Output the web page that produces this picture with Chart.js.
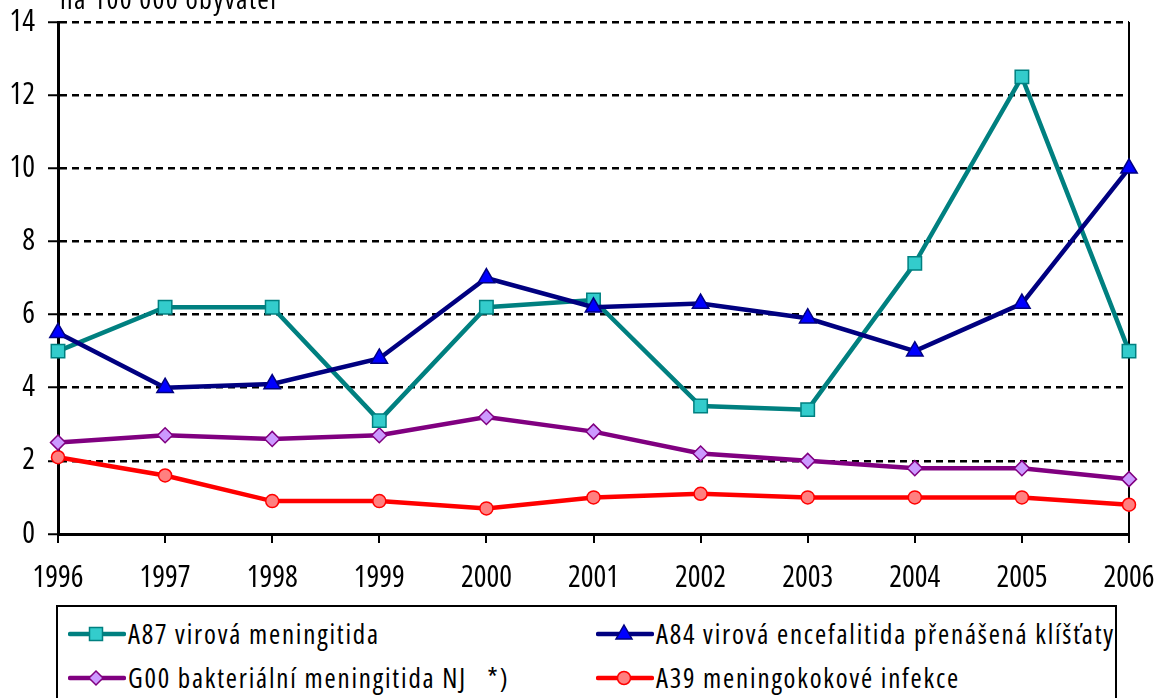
<!DOCTYPE html>
<html>
<head>
<meta charset="utf-8">
<script src="https://cdn.jsdelivr.net/npm/chart.js@4"></script>
<style>
  html, body { margin: 0; padding: 0; background: #fff; overflow: hidden; }
  body { width: 1159px; height: 698px; position: relative; }
  #chart { position: absolute; left: 0; top: 0; }
  .legend {
    position: absolute; left: 56px; top: 605px; width: 1061px; height: 120px;
    border: 2px solid #000; box-sizing: border-box;
    font-family: "Open Sans", sans-serif; font-stretch: condensed;
    font-size: 27px; letter-spacing: 1.8px; color: #000;
  }
  .item { position: absolute; display: flex; align-items: center; white-space: nowrap; line-height: 30px; }
  .item svg { margin-right: 2px; }
</style>
</head>
<body>
<canvas id="chart" width="1159" height="600"></canvas>
<div class="legend" id="legend"></div>
<script>
// data
const years = ['1996', '1997', '1998', '1999', '2000', '2001', '2002', '2003', '2004', '2005', '2006'];
const a87 = [5.0, 6.2, 6.2, 3.1, 6.2, 6.4, 3.5, 3.4, 7.4, 12.5, 5.0];
const a84 = [5.5, 4.0, 4.1, 4.8, 7.0, 6.2, 6.3, 5.9, 5.0, 6.3, 10.0];
const g00 = [2.5, 2.7, 2.6, 2.7, 3.2, 2.8, 2.2, 2.0, 1.8, 1.8, 1.5];
const a39 = [2.1, 1.6, 0.9, 0.9, 0.7, 1.0, 1.1, 1.0, 1.0, 1.0, 0.8];
const seriesNames = [
    'A87 virová meningitida',
    'A84 virová encefalitida přenášená klíšťaty',
    'G00 bakteriální meningitida NJ   *)',
    'A39 meningokokové infekce'
];
const unitLabel = 'na 100 000 obyvatel';

const FONT = '"Open Sans", sans-serif';
// Chart.js puts the weight string straight into ctx.font, so the width keyword rides along there
const tickFont = { family: FONT, size: 30, weight: 'condensed' };

function series(label, data, line, fill, style, radius, order) {
    return {
        label: label,
        data: data,
        borderColor: line,
        backgroundColor: fill,
        borderWidth: 4.5,
        pointStyle: style,
        pointRadius: radius,
        pointBorderColor: line,
        pointBackgroundColor: fill,
        pointBorderWidth: 1.5,
        tension: 0,
        order: order
    };
}

const datasets = [
    series(seriesNames[0], a87, '#008080', '#33CCCC', 'rect', 9.5, 1),
    series(seriesNames[1], a84, '#000080', '#0000FF', 'triangle', 9.5, 0),
    series(seriesNames[2], g00, '#800080', '#CC99FF', 'rectRot', 7.5, 2),
    series(seriesNames[3], a39, '#FF0000', '#FF8080', 'circle', 6.5, 3)
];

// unit text above the plot and the right edge line of the plot area
const extras = {
    id: 'extras',
    beforeDatasetsDraw(chart) {
        const ctx = chart.ctx;
        const a = chart.chartArea;
        ctx.save();
        ctx.strokeStyle = '#000';
        ctx.lineWidth = 2;
        ctx.beginPath();
        ctx.moveTo(a.right, a.top);
        ctx.lineTo(a.right, a.bottom);
        ctx.stroke();
        ctx.restore();
    },
    afterDraw(chart) {
        const ctx = chart.ctx;
        ctx.save();
        ctx.fillStyle = '#000';
        ctx.font = 'normal condensed 28px ' + FONT;
        ctx.letterSpacing = '1.3px';
        ctx.textBaseline = 'alphabetic';
        ctx.fillText(unitLabel, 60, 9);
        ctx.restore();
    }
};

new Chart(document.getElementById('chart').getContext('2d'), {
    type: 'line',
    data: { labels: years, datasets: datasets },
    options: {
        responsive: false,
        animation: false,
        events: [],
        layout: { padding: { top: 22, right: 30, left: 0, bottom: 0 } },
        plugins: { legend: { display: false }, tooltip: { enabled: false } },
        scales: {
            x: {
                offset: false,
                grid: { drawOnChartArea: false, drawTicks: true, tickLength: 9, color: '#000', lineWidth: 2 },
                border: { color: '#000', width: 3 },
                ticks: { color: '#000', font: tickFont, padding: 17, maxRotation: 0 },
                afterFit(scale) {
                    scale.height = 66;
                    scale.paddingLeft = 0;
                    scale.paddingRight = 0;
                }
            },
            y: {
                min: 0,
                max: 14,
                grid: { color: '#000', lineWidth: 2.5, tickLength: 10, tickBorderDash: [], tickColor: '#000', tickWidth: 2 },
                border: { color: '#000', width: 3, dash: [7, 5] },
                ticks: { stepSize: 2, color: '#000', font: tickFont, padding: 13 },
                afterFit(scale) {
                    scale.width = 58;
                    scale.paddingTop = 0;
                    scale.paddingBottom = 0;
                }
            }
        }
    },
    plugins: [extras]
});

// legend in the box below the chart
function symbol(ds) {
    const c = ds.borderColor, f = ds.pointBackgroundColor;
    let m = '';
    if (ds.pointStyle === 'rect') m = '<rect x="21.5" y="7.5" width="13" height="13" fill="' + f + '" stroke="' + c + '" stroke-width="1.5"/>';
    if (ds.pointStyle === 'triangle') m = '<polygon points="28,5 36,19 20,19" fill="' + f + '" stroke="' + c + '" stroke-width="1.5"/>';
    if (ds.pointStyle === 'rectRot') m = '<polygon points="28,7 35,14 28,21 21,14" fill="' + f + '" stroke="' + c + '" stroke-width="1.5"/>';
    if (ds.pointStyle === 'circle') m = '<circle cx="28" cy="14" r="6.5" fill="' + f + '" stroke="' + c + '" stroke-width="1.5"/>';
    return '<svg width="58" height="28"><line x1="2" y1="14" x2="56" y2="14" stroke="' + c + '" stroke-width="4.5" stroke-linecap="round"/>' + m + '</svg>';
}
const legendPos = [[10, 12], [538, 12], [10, 56], [538, 56]];
const legend = document.getElementById('legend');
datasets.forEach((ds, i) => {
    const el = document.createElement('div');
    el.className = 'item';
    el.style.left = legendPos[i][0] + 'px';
    el.style.top = legendPos[i][1] + 'px';
    el.innerHTML = symbol(ds) + '<span>' + ds.label.replace(/ {2,}/g, m => '&nbsp;'.repeat(m.length)) + '</span>';
    legend.appendChild(el);
});
</script>
</body>
</html>
